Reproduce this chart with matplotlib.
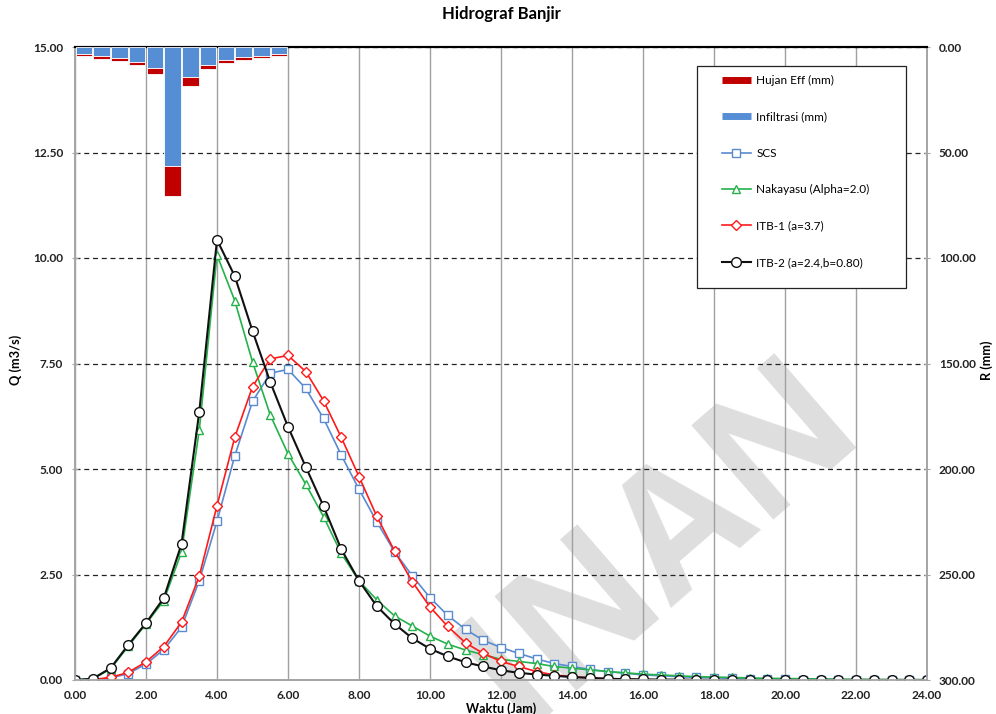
import matplotlib
matplotlib.use("Agg")
import matplotlib.pyplot as plt
from matplotlib.lines import Line2D
from matplotlib.patches import Rectangle
from matplotlib.ticker import FormatStrFormatter, MultipleLocator

plt.rcParams['font.family'] = ['Lato', 'DejaVu Sans']

# ---------------- data ----------------
time_h = [0.0, 0.5, 1.0, 1.5, 2.0, 2.5, 3.0, 3.5, 4.0, 4.5, 5.0, 5.5, 6.0, 6.5, 7.0, 7.5,
          8.0, 8.5, 9.0, 9.5, 10.0, 10.5, 11.0, 11.5, 12.0, 12.5, 13.0, 13.5, 14.0, 14.5,
          15.0, 15.5, 16.0, 16.5, 17.0, 17.5, 18.0, 18.5, 19.0, 19.5, 20.0, 20.5, 21.0,
          21.5, 22.0, 22.5, 23.0, 23.5, 24.0]

q_scs = [0.0, 0.0, 0.05, 0.15, 0.38, 0.72, 1.25, 2.35, 3.76, 5.31, 6.60, 7.27, 7.36, 6.91,
         6.20, 5.33, 4.52, 3.75, 3.04, 2.47, 1.95, 1.53, 1.20, 0.94, 0.77, 0.63, 0.50, 0.39,
         0.32, 0.25, 0.20, 0.16, 0.12, 0.10, 0.08, 0.06, 0.05, 0.04, 0.03, 0.02, 0.02, 0.01,
         0.01, 0.01, 0.0, 0.0, 0.0, 0.0, 0.0]

q_nakayasu = [0.0, 0.03, 0.26, 0.80, 1.33, 1.88, 3.03, 5.92, 10.07, 8.99, 7.54, 6.28, 5.36,
              4.64, 3.87, 3.00, 2.35, 1.90, 1.52, 1.28, 1.04, 0.85, 0.71, 0.60, 0.49, 0.44,
              0.39, 0.32, 0.28, 0.24, 0.20, 0.17, 0.14, 0.12, 0.10, 0.08, 0.07, 0.06, 0.05,
              0.04, 0.035, 0.03, 0.025, 0.02, 0.018, 0.015, 0.012, 0.01, 0.01]

q_itb1 = [0.0, 0.01, 0.06, 0.18, 0.43, 0.79, 1.37, 2.46, 4.13, 5.75, 6.95, 7.61, 7.69, 7.31,
          6.62, 5.75, 4.82, 3.88, 3.06, 2.33, 1.73, 1.27, 0.88, 0.63, 0.44, 0.32, 0.20, 0.12,
          0.08, 0.05, 0.03, 0.02, 0.01, 0.0, 0.0, 0.0, 0.0, 0.0, 0.0, 0.0, 0.0, 0.0, 0.0,
          0.0, 0.0, 0.0, 0.0, 0.0, 0.0]

q_itb2 = [0.0, 0.03, 0.28, 0.83, 1.35, 1.94, 3.22, 6.35, 10.43, 9.57, 8.27, 7.06, 6.00, 5.05,
          4.12, 3.10, 2.35, 1.75, 1.33, 0.99, 0.74, 0.56, 0.42, 0.32, 0.23, 0.17, 0.13, 0.10,
          0.07, 0.05, 0.03, 0.02, 0.015, 0.01, 0.01, 0.005, 0.0, 0.0, 0.0, 0.0, 0.0, 0.0,
          0.0, 0.0, 0.0, 0.0, 0.0, 0.0, 0.0]

rain_time = [0.25, 0.75, 1.25, 1.75, 2.25, 2.75, 3.25, 3.75, 4.25, 4.75, 5.25, 5.75]
infiltrasi_mm = [3.4, 4.5, 5.3, 7.0, 10.1, 56.2, 14.4, 8.5, 6.2, 4.9, 4.2, 3.3]
hujan_eff_mm = [0.9, 1.2, 1.3, 1.6, 2.7, 14.4, 3.9, 1.9, 1.6, 1.4, 0.9, 0.9]

x_ticks = [0, 2, 4, 6, 8, 10, 12, 14, 16, 18, 20, 22, 24]

# ---------------- figure ----------------
fig = plt.figure(figsize=(9.96, 7.14), dpi=100)
ax = fig.add_axes([75 / 996, 34 / 714, 852 / 996, 633 / 714])
ax2 = ax.twinx()

grid_gray = '#a0a0a0'
spine_gray = '#a6a6a6'

ax.set_xlim(0, 24)
ax.set_ylim(0, 15)
ax.set_xticks(x_ticks)
ax.yaxis.set_major_locator(MultipleLocator(2.5))
ax.xaxis.set_major_formatter(FormatStrFormatter('%.2f'))
ax.yaxis.set_major_formatter(FormatStrFormatter('%.2f'))
ax.grid(axis='x', color=grid_gray, linewidth=1.0, linestyle='-')
ax.grid(axis='y', color='#222222', linewidth=0.9, linestyle=(0, (4, 3)))
ax.set_axisbelow(True)
ax.xaxis.set_zorder(2)
ax.yaxis.set_zorder(2)

# watermark (behind the curves and grid)
ax.text(0.665, 0.24, 'INAN', rotation=41, fontsize=125, fontweight='bold',
        color='#dedede', ha='center', va='center', zorder=1.5, family='Open Sans',
        transform=fig.transFigure)

lw = 1.2
ax.plot(time_h, q_scs, color='#5a8bd0', lw=lw, marker='s', ms=6, mfc='white',
        mec='#5a8bd0', mew=1.0, label='SCS', zorder=3)
ax.plot(time_h, q_nakayasu, color='#25b24a', lw=lw, marker='^', ms=6, mfc='white',
        mec='#25b24a', mew=1.0, label='Nakayasu (Alpha=2.0)', zorder=3)
ax.plot(time_h, q_itb1, color='#ff1a1a', lw=lw, marker='D', ms=5, mfc='white',
        mec='#ff1a1a', mew=1.0, label='ITB-1 (a=3.7)', zorder=4)
ax.plot(time_h, q_itb2, color='#111111', lw=1.5, marker='o', ms=7, mfc='white',
        mec='#111111', mew=1.0, label='ITB-2 (a=2.4,b=0.80)', zorder=5)

# rainfall bars (secondary axis, inverted)
ax2.set_ylim(300, 0)
ax2.yaxis.set_major_locator(MultipleLocator(50))
ax2.yaxis.set_major_formatter(FormatStrFormatter('%.2f'))
ax2.bar(rain_time, infiltrasi_mm, width=0.46, bottom=0, color='#558ed5',
        edgecolor='white', linewidth=0.6, label='Infiltrasi (mm)', zorder=3)
ax2.bar(rain_time, hujan_eff_mm, width=0.46, bottom=infiltrasi_mm, color='#c00000',
        edgecolor='white', linewidth=0.6, label='Hujan Eff (mm)', zorder=3)

for a in (ax, ax2):
    for s in ('left', 'right', 'bottom'):
        a.spines[s].set_color(spine_gray)
        a.spines[s].set_linewidth(1.3)
    a.spines['top'].set_color('black')
    a.spines['top'].set_linewidth(1.5)
    a.tick_params(axis='both', direction='inout', length=5, color=spine_gray,
                  labelsize=8.6, pad=6)
for lab in ax.get_xticklabels() + ax.get_yticklabels() + ax2.get_yticklabels():
    lab.set_fontweight('bold')
    lab.set_color('#222222')
ax.tick_params(axis='x', length=0, pad=7)

ax.set_title('Hidrograf Banjir', fontsize=12, fontweight='bold', pad=20)
ax.set_ylabel('Q (m3/s)', fontsize=9.2, fontweight='bold')
ax.yaxis.set_label_coords(-0.062, 0.505)
ax2.set_ylabel('R (mm)', fontsize=9.2, fontweight='bold')
ax2.yaxis.set_label_coords(1.062, 0.505)
ax.set_xlabel('Waktu (Jam)', fontsize=9, fontweight='bold')
ax.xaxis.set_label_coords(0.5, -0.0345)

# legend with separate frame
frame = Rectangle((0.730, 0.619), 0.245, 0.351, transform=ax2.transAxes,
                  facecolor='white', edgecolor='#222222', linewidth=0.9, zorder=9)
ax2.add_patch(frame)
handles = [
    Line2D([], [], color='#c00000', lw=5, solid_capstyle='butt'),
    Line2D([], [], color='#558ed5', lw=5, solid_capstyle='butt'),
    Line2D([], [], color='#5a8bd0', lw=lw, marker='s', ms=6, mfc='white', mec='#5a8bd0'),
    Line2D([], [], color='#25b24a', lw=lw, marker='^', ms=6, mfc='white', mec='#25b24a'),
    Line2D([], [], color='#ff1a1a', lw=lw, marker='D', ms=5, mfc='white', mec='#ff1a1a'),
    Line2D([], [], color='#111111', lw=1.5, marker='o', ms=7, mfc='white', mec='#111111'),
]
labels = ['Hujan Eff (mm)', 'Infiltrasi (mm)', 'SCS', 'Nakayasu (Alpha=2.0)',
          'ITB-1 (a=3.7)', 'ITB-2 (a=2.4,b=0.80)']
leg = ax2.legend(handles, labels, loc='upper left',
                 bbox_to_anchor=((722 - 75) / 852, (680 - 75) / 633),
                 fontsize=8.5, labelspacing=2.15, handlelength=2.45, handletextpad=0.45,
                 borderpad=0, borderaxespad=0, frameon=False)
leg.set_zorder(10)

fig.savefig('out.png', dpi=100, facecolor='white')
